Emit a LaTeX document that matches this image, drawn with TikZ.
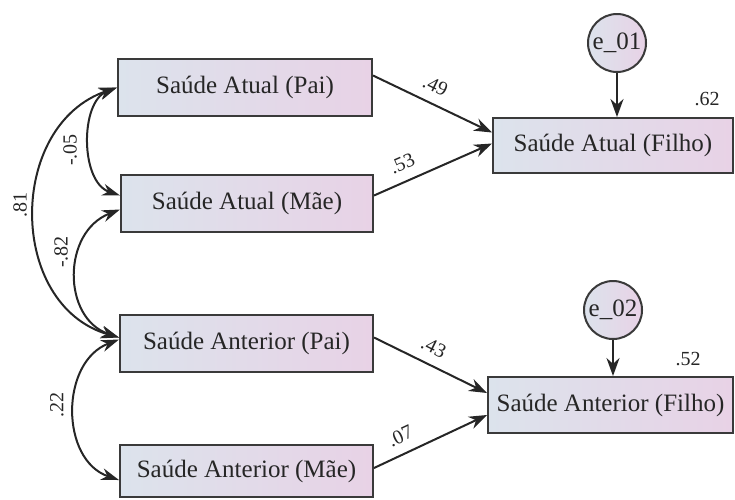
\documentclass[tikz,border=0pt]{standalone}
\usepackage{fontspec}
\setmainfont{Liberation Serif}
\usetikzlibrary{arrows.meta,calc}
\definecolor{boxL}{HTML}{DCE3EC}
\definecolor{boxR}{HTML}{E8D2E6}
\definecolor{edge}{HTML}{3A3A3A}
\tikzset{
  var/.style={draw=edge, line width=2pt, left color=boxL, right color=boxR, inner sep=0pt,
    font=\fontsize{25}{29}\selectfont, text=black!85},
  err/.style={circle, draw=edge, line width=2pt, left color=boxL, right color=boxR, inner sep=0pt,
    minimum size=58pt, font=\fontsize{25}{29}\selectfont, text=black!85},
  path/.style={line width=2pt, draw=black!85, -{Stealth[length=18pt,width=13pt]}},
  cov/.style={line width=2pt, draw=black!85, {Stealth[length=18pt,width=12pt]}-{Stealth[length=18pt,width=12pt]}},
  coef/.style={font=\fontsize{20}{23}\selectfont, text=black!85, inner sep=0pt}
}
\begin{document}
\begin{tikzpicture}[x=1pt,y=-1pt]
\useasboundingbox (0,0) rectangle (735,499);
% observed variables
\node[var, minimum width=254pt, minimum height=57pt] (pai) at (245,87.5) {Saúde Atual (Pai)};
\node[var, minimum width=252pt, minimum height=57pt] (mae) at (247,203.5) {Saúde Atual (Mãe)};
\node[var, minimum width=253pt, minimum height=57pt] (apai) at (246.5,343.5) {Saúde Anterior (Pai)};
\node[var, minimum width=253pt, minimum height=52pt] (amae) at (246.5,471) {Saúde Anterior (Mãe)};
\node[var, minimum width=240pt, minimum height=55pt] (filho) at (613,145.5) {Saúde Atual (Filho)};
\node[var, minimum width=245pt, minimum height=56pt] (afilho) at (610.5,405) {Saúde Anterior (Filho)};
% errors
\node[err] (e1) at (617,43) {e\_01};
\node[err] (e2) at (613,310) {e\_02};
\draw[path] (e1) -- (e1 |- filho.north);
\draw[path] (e2) -- (e2 |- afilho.north);
\node[coef] (r1) at (707,99) {.62};
\node[coef] (r2) at (688,359) {.52};
% regression paths
\draw[path] ($(pai.east)+(0,-12)$) -- ($(filho.west)+(0,-13)$)
  node[coef, pos=0.46, above=10pt, sloped] (c1) {.49};
\draw[path] ($(mae.east)+(0,-8)$) -- ($(filho.west)+(0,-2)$)
  node[coef, pos=0.3, above=10pt, sloped] (c2) {.53};
\draw[path] ($(apai.east)+(0,-6)$) -- ($(afilho.west)+(0,-12)$)
  node[coef, pos=0.46, above=10pt, sloped] (c3) {.43};
\draw[path] ($(amae.east)+(0,-3)$) -- ($(afilho.west)+(0,10)$)
  node[coef, pos=0.3, above=10pt, sloped] (c4) {.07};
% covariances
\draw[cov] (pai.west) .. controls (80,102) and (80,182) .. ($(mae.west)+(0,-8)$);
\draw[cov] (pai.west) .. controls (7,125) and (7,305) .. ($(apai.west)+(0,-6)$);
\draw[cov] ($(mae.west)+(0,6)$) .. controls (62,232) and (62,318) .. ($(apai.west)+(0,-6)$);
\draw[cov] ($(apai.west)+(0,-4)$) .. controls (60,362) and (60,460) .. ($(amae.west)+(0,9)$);
\node[coef, rotate=90] (k1) at (70,150) {-.05};
\node[coef, rotate=90] (k2) at (20,205) {.81};
\node[coef, rotate=90] (k3) at (61,252) {-.82};
\node[coef, rotate=90] (k4) at (57,405) {.22};
\end{tikzpicture}
\end{document}
